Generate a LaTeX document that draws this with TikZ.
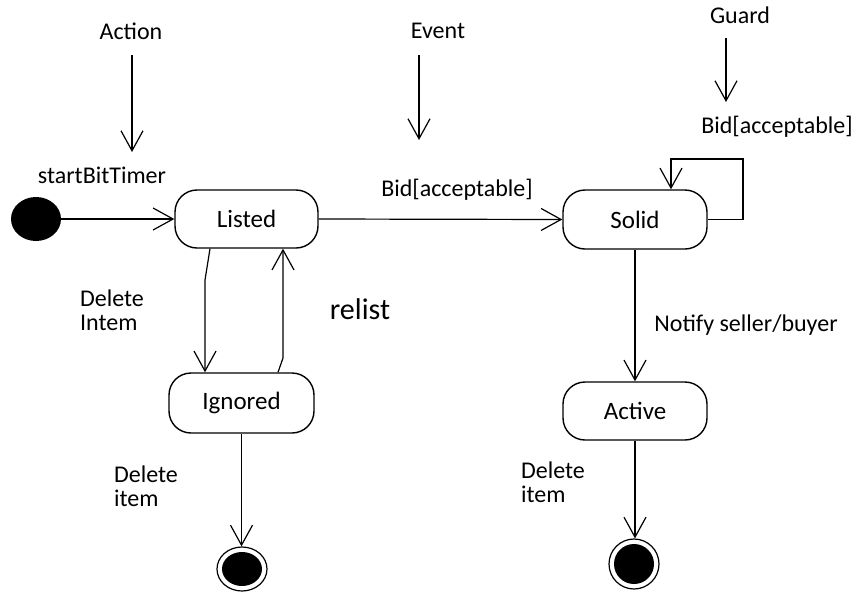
\documentclass[tikz,border=0pt]{standalone}
\usepackage{fontspec}
\setmainfont{Carlito}
\usetikzlibrary{arrows.meta,shapes.geometric}
\tikzset{
  arr/.style={line width=1.2pt,-{Straight Barb[length=20pt,width=22pt,line width=1.2pt]}},
  statebox/.style={draw,line width=1.4pt,rounded corners=22pt,minimum width=143pt,minimum height=58pt,inner sep=0pt,font=\fontsize{25}{28}\selectfont},
  lbl/.style={font=\fontsize{24}{24}\selectfont,inner sep=0pt,align=left},
  initst/.style={ellipse,fill=black,minimum width=50pt,minimum height=44pt,inner sep=0pt},
  finalst/.style={ellipse,draw,line width=1.2pt,minimum width=50pt,minimum height=#1,inner sep=0pt,
    path picture={\fill[black] (path picture bounding box.center) ellipse (20pt and {#1/2-5pt});}},
}
\begin{document}
\begin{tikzpicture}[x=1pt,y=-1pt]
\useasboundingbox (0,0) rectangle (857,592);
% states
\node[initst] (init) at (36,219) {};
\node[statebox] (listed) at (246.5,219) {Listed};
\node[statebox,minimum width=144pt,minimum height=59pt] (solid) at (635,219.5) {Solid};
\node[statebox,minimum width=145pt,minimum height=60pt] (ignored) at (241.5,403) {Ignored};
\node[statebox,minimum width=144pt] (active) at (635,411) {Active};
\node[finalst=44pt] (fin1) at (242,569) {};
\node[finalst=50pt] (fin2) at (634,564) {};
% labels
\node[lbl] (lact) at (131,31) {Action};
\node[lbl] (levt) at (438,31) {Event};
\node[lbl] (lgrd) at (740,15) {Guard};
\node[lbl] (lstart) at (102,175) {startBitTimer};
\node[lbl] (lbid1) at (457,190) {Bid[acceptable]};
\node[lbl] (lbid2) at (777,127) {Bid[acceptable]};
\node[lbl] (ldel1) at (112,310) {Delete\\Intem};
\node[lbl,font=\fontsize{30}{32}\selectfont] (lrel) at (360,309) {relist};
\node[lbl] (ldel2) at (146,486) {Delete\\item};
\node[lbl] (ldel3) at (553,482) {Delete\\item};
\node[lbl] (lnot) at (746,325) {Notify seller/buyer};
% annotation arrows
\coordinate (a1) at (132,55); \coordinate (a2) at (132,152);
\coordinate (e1) at (419,55); \coordinate (e2) at (419,140);
\coordinate (g1) at (726,38); \coordinate (g2) at (726,102);
\draw[arr] (a1) -- (a2);
\draw[arr] (e1) -- (e2);
\draw[arr] (g1) -- (g2);
% transitions
\draw[arr] (init) -- (listed.west);
\draw[arr] (listed.east) -- (solid.west);
\coordinate (loopc) at (743,159);
\draw[arr] (solid.east) -| (loopc) -| ([xshift=36pt]solid.north);
\coordinate (b1) at (205,280);
\draw[arr] ([xshift=-36.5pt]listed.south) -- (b1) -- (b1 |- ignored.north);
\coordinate (b2) at (283,358);
\draw[arr] ([xshift=36.5pt]ignored.north) -- (b2) -- (b2 |- listed.south);
\draw[arr] (ignored.south) -- (ignored.south |- fin1.north);
\draw[arr] (solid.south) -- (active.north);
\draw[arr] (active.south) -- (active.south |- fin2.north);
\end{tikzpicture}
\end{document}
